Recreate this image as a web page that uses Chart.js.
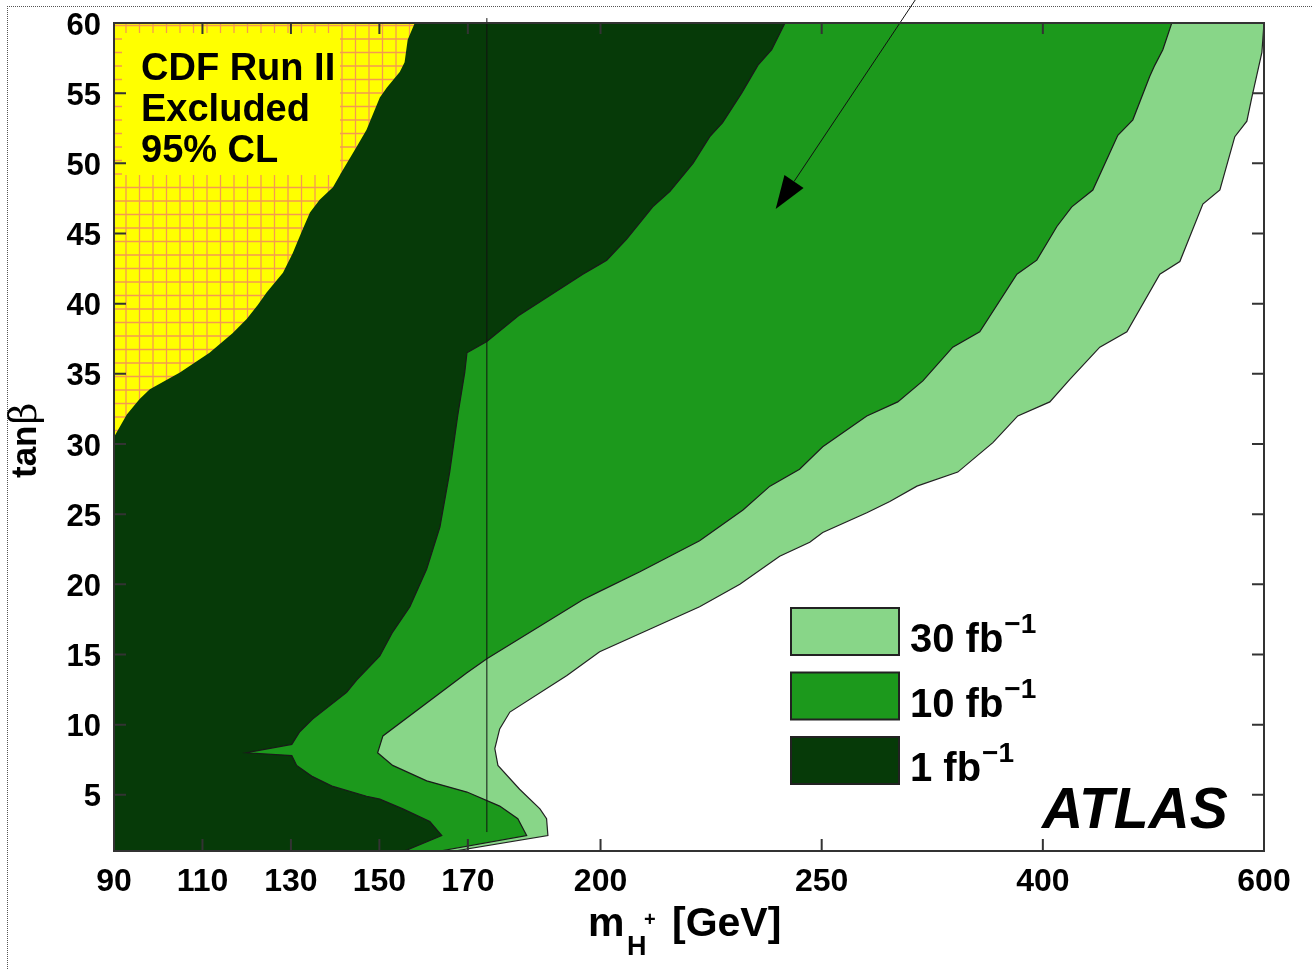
<!DOCTYPE html>
<html>
<head>
<meta charset="utf-8">
<script src="https://cdn.jsdelivr.net/npm/chart.js@4.4.1/dist/chart.umd.min.js"></script>
<style>
  html, body { margin: 0; padding: 0; background: #fff; }
  #wrap { position: relative; width: 1312px; height: 969px; overflow: hidden; }
  #frame { position: absolute; left: 7px; top: 6px; right: -2px; bottom: -2px;
           border-top: 1px dotted #555; border-left: 1px dotted #555; }
  canvas { position: absolute; left: 0; top: 0; }
</style>
</head>
<body>
<div id="wrap"><div id="frame"></div><canvas id="chart" width="1312" height="969"></canvas></div>
<script>
// tick labels
const xTickLabels = [90, 110, 130, 150, 170, 200, 250, 400, 600];
const yTickLabels = [5, 10, 15, 20, 25, 30, 35, 40, 45, 50, 55, 60];

// CDF Run II excluded region, boundary (m_H+ in GeV, tanb)
const cdfMass = [90, 92.9, 95.8, 98.1, 104.9, 111.6, 116.8, 120.0, 122.5, 124.5, 128.2, 130.4, 132.4,
  134.3, 136.5, 139.5, 141.7, 144.9, 147.1, 150.1, 151.7, 154.6, 155.7, 156.4, 158.0];
const cdfTanb = [30.5, 32.1, 33.2, 33.9, 35.1, 36.5, 37.9, 38.9, 39.9, 40.8, 42.2, 43.6, 45.1,
  46.5, 47.4, 48.3, 49.5, 51.2, 52.4, 54.7, 55.4, 56.5, 57.2, 58.8, 60];

// 1 fb-1 contour
const fb1Mass = [241.7, 238.7, 235.6, 231.9, 227.6, 224.7, 220.9, 215.7, 211.8, 205.9, 201.4, 199.8, 196.0,
  181.7, 174.3, 169.8, 169.3, 167.7, 165.9, 163.7, 160.7, 156.9, 153.0, 150.1, 144.9, 142.6, 134.9,
  132.0, 130.2, 120.0, 130.2, 131.3, 134.9, 139.5, 147.1, 150.1, 155.3, 161.4, 164.1, 155.7];
const fb1Tanb = [60, 58.1, 57.0, 55.0, 52.9, 51.9, 50.0, 48.0, 46.9, 44.6, 43.1, 42.8, 42.1,
  39.2, 37.3, 36.5, 35.1, 32.0, 28.0, 24.1, 21.1, 18.4, 16.6, 14.9, 13.2, 12.3, 10.4,
  9.5, 8.6, 8.0, 7.8, 7.1, 6.3, 5.6, 4.9, 4.7, 4.0, 3.1, 2.1, 1];

// 10 fb-1 contour
const fb10Mass = [516.6, 508.5, 501.3, 496.7, 481.4, 467.8, 445.2, 426.2, 412.7, 395.9, 382.4, 357.2,
  338.9, 318.6, 301.6, 280.6, 250.7, 245.0, 238.3, 232.2, 222.4, 215.0, 208.9, 199.8, 196.0, 174.3,
  169.8, 150.8, 149.6, 153.0, 160.7, 169.8, 177.2, 181.3, 183.3, 163.7];
const fb10Tanb = [60, 58.1, 57.0, 56.2, 53.1, 52.0, 48.1, 46.9, 45.5, 43.1, 42.1, 38.0,
  36.9, 34.5, 33.0, 32.0, 29.8, 28.2, 27.0, 25.3, 23.1, 21.9, 20.9, 19.5, 18.9, 14.7,
  13.7, 9.2, 8.0, 7.1, 6.0, 5.2, 4.2, 3.3, 2.1, 1];

// 30 fb-1 contour
const fb30Mass = [600, 598.1, 589.0, 584.5, 573.6, 560.1, 544.7, 523.9, 505.8, 476.0, 451.5, 424.4,
  406.3, 383.0, 366.1, 342.3, 314.6, 296.2, 280.6, 250.7, 247.3, 240.5, 231.5, 222.4, 211.1, 199.8,
  192.4, 179.5, 177.2, 176.1, 176.8, 181.7, 186.3, 187.8, 188.1, 167.0];
const fb30Tanb = [60, 57.9, 54.7, 53.0, 51.9, 48.1, 47.1, 43.0, 42.1, 38.0, 36.9, 34.6,
  33.0, 32.0, 30.1, 28.0, 27.0, 25.9, 25.1, 23.7, 23.0, 22.0, 20.0, 18.4, 16.8, 15.2,
  13.5, 10.9, 9.7, 8.3, 7.1, 5.4, 4.0, 3.3, 2.1, 1];

// top quark mass line and the arrow
const topMass = 174.3;
const topLineTanb = [2.35, 60.35];
const arrowMass = [313.5, 239.6];
const arrowTanb = [61.65, 46.75];

// x axis is linear in pieces: 90-250, 250-400, 400-600
const axisBreaks = [[90, 0], [250, 8], [400, 10.5], [600, 13]];
function massToAxis(m) {
  for (let i = 1; i < axisBreaks.length; i++) {
    const [m0, u0] = axisBreaks[i - 1], [m1, u1] = axisBreaks[i];
    if (m <= m1 || i === axisBreaks.length - 1) return u0 + (m - m0) * (u1 - u0) / (m1 - m0);
  }
}

// closed region: boundary + corners of the plot
function region(mass, tanb, corners) {
  const pts = mass.map((m, i) => ({ x: massToAxis(m), y: tanb[i] }));
  corners.forEach(c => pts.push({ x: massToAxis(c[0]), y: c[1] }));
  return pts;
}

// yellow with orange grid
function hatch() {
  const c = document.createElement("canvas");
  c.width = 27; c.height = 27;
  const g = c.getContext("2d");
  g.fillStyle = "#ffff00";
  g.fillRect(0, 0, 27, 27);
  g.strokeStyle = "#f49a50";
  g.lineWidth = 1.3;
  g.beginPath();
  [4.5, 18].forEach(v => { g.moveTo(v, 0); g.lineTo(v, 27); });
  [12, 25.5].forEach(v => { g.moveTo(0, v); g.lineTo(27, v); });
  g.stroke();
  return g.createPattern(c, "repeat");
}

const FONT = "'Liberation Sans', Arial, Helvetica, sans-serif";
const ctx = document.getElementById("chart").getContext("2d");

const decor = {
  id: "decor",
  afterDatasetsDraw(chart) {
    const { ctx, chartArea: a, scales: { x, y } } = chart;
    ctx.save();

    // CDF label box
    ctx.fillStyle = "#ffff00";
    ctx.fillRect(a.left + 8, a.top + 10, 218, 142);
    ctx.fillStyle = "#000";
    ctx.font = "bold 38px " + FONT;
    ctx.textBaseline = "alphabetic";
    ctx.fillText("CDF Run II", a.left + 27, a.top + 57);
    ctx.fillText("Excluded", a.left + 27, a.top + 98);
    ctx.fillText("95% CL", a.left + 27, a.top + 139);

    // top mass line
    const tx = x.getPixelForValue(massToAxis(topMass));
    ctx.strokeStyle = "#111";
    ctx.lineWidth = 1;
    ctx.beginPath();
    ctx.moveTo(tx, y.getPixelForValue(topLineTanb[0]));
    ctx.lineTo(tx, y.getPixelForValue(topLineTanb[1]));
    ctx.stroke();

    // arrow
    const x0 = x.getPixelForValue(massToAxis(arrowMass[0])), y0 = y.getPixelForValue(arrowTanb[0]);
    const x1 = x.getPixelForValue(massToAxis(arrowMass[1])), y1 = y.getPixelForValue(arrowTanb[1]);
    const len = Math.hypot(x1 - x0, y1 - y0), ux = (x1 - x0) / len, uy = (y1 - y0) / len;
    const hl = 33, hw = 11.5;
    ctx.beginPath();
    ctx.moveTo(x0 - ux * 20, y0 - uy * 20);
    ctx.lineTo(x1 - ux * hl, y1 - uy * hl);
    ctx.stroke();
    ctx.fillStyle = "#000";
    ctx.beginPath();
    ctx.moveTo(x1, y1);
    ctx.lineTo(x1 - ux * hl - uy * hw, y1 - uy * hl + ux * hw);
    ctx.lineTo(x1 - ux * hl + uy * hw, y1 - uy * hl - ux * hw);
    ctx.closePath();
    ctx.fill();

    // frame and inward ticks on all sides
    ctx.strokeStyle = "#333";
    ctx.lineWidth = 2;
    ctx.strokeRect(a.left, a.top, a.right - a.left, a.bottom - a.top);
    ctx.beginPath();
    x.ticks.forEach(t => {
      const px = x.getPixelForValue(t.value);
      ctx.moveTo(px, a.bottom); ctx.lineTo(px, a.bottom - 12);
      ctx.moveTo(px, a.top); ctx.lineTo(px, a.top + 11);
    });
    y.ticks.forEach(t => {
      const py = y.getPixelForValue(t.value);
      ctx.moveTo(a.left, py); ctx.lineTo(a.left + 12, py);
      ctx.moveTo(a.right, py); ctx.lineTo(a.right - 12, py);
    });
    ctx.stroke();

    // legend
    const items = chart.data.datasets.slice(1).reverse();
    items.forEach((ds, i) => {
      const bx = a.left + 677, by = a.top + 585 + i * 64.5;
      ctx.fillStyle = ds.backgroundColor;
      ctx.fillRect(bx, by, 108, 47);
      ctx.strokeStyle = "#222";
      ctx.lineWidth = 2;
      ctx.strokeRect(bx, by, 108, 47);
      ctx.fillStyle = "#000";
      ctx.font = "bold 40px " + FONT;
      ctx.fillText(ds.label, bx + 119, by + 44);
      const w = ctx.measureText(ds.label).width;
      ctx.font = "bold 28px " + FONT;
      ctx.fillText("\u22121", bx + 119 + w + 1, by + 25);
    });

    // ATLAS
    ctx.font = "italic bold 57px " + FONT;
    ctx.fillText("ATLAS", a.right - 222, a.bottom - 23);

    // axis titles
    ctx.font = "bold 41px " + FONT;
    ctx.fillText("m", 588, 936);
    ctx.font = "bold 27px " + FONT;
    ctx.fillText("H", 627, 955);
    ctx.font = "bold 20px " + FONT;
    ctx.fillText("+", 644, 926);
    ctx.font = "bold 41px " + FONT;
    ctx.fillText("[GeV]", 672, 936);

    ctx.translate(36, 437);
    ctx.rotate(-Math.PI / 2);
    ctx.font = "bold 35px " + FONT;
    ctx.fillText("tan", -41, 0);
    const tw = ctx.measureText("tan").width;
    ctx.font = "38px 'DejaVu Serif', serif";
    ctx.fillText("\u03b2", -41 + tw + 1, 0);
    ctx.restore();
  }
};

new Chart(ctx, {
  type: "line",
  data: {
    datasets: [
      {
        label: "CDF",
        data: region(cdfMass, cdfTanb, [[90, 60]]),
        backgroundColor: hatch(),
        borderColor: "rgba(0,0,0,0)",
        borderWidth: 0,
        fill: "shape",
      },
      {
        label: "1 fb",
        data: region(fb1Mass, fb1Tanb, [[90, 1], [90, 60]]),
        backgroundColor: "#063a08",
        borderColor: "#1a1a1a",
        borderWidth: 1.2,
        fill: "shape",
      },
      {
        label: "10 fb",
        data: region(fb10Mass, fb10Tanb, [[90, 1], [90, 60]]),
        backgroundColor: "#1c991c",
        borderColor: "#1a1a1a",
        borderWidth: 1.2,
        fill: "shape",
      },
      {
        label: "30 fb",
        data: region(fb30Mass, fb30Tanb, [[90, 1], [90, 60]]),
        backgroundColor: "#88d688",
        borderColor: "#222",
        borderWidth: 1.2,
        fill: "shape",
      },
    ],
  },
  options: {
    responsive: false,
    animation: false,
    events: [],
    layout: { padding: { left: 0, top: 23, right: 48, bottom: 0 } },
    elements: { point: { radius: 0 }, line: { tension: 0 } },
    scales: {
      x: {
        type: "linear",
        min: 0,
        max: 13,
        afterBuildTicks: s => { s.ticks = xTickLabels.map(m => ({ value: massToAxis(m) })); },
        afterFit: s => { s.height = 118; },
        grid: { display: false, drawTicks: false },
        border: { display: false },
        ticks: {
          autoSkip: false,
          maxRotation: 0,
          padding: 12,
          color: "#000",
          font: { family: FONT, weight: "bold", size: 32 },
          callback: (v, i) => xTickLabels[i],
        },
      },
      y: {
        type: "linear",
        min: 1,
        max: 60,
        afterBuildTicks: s => { s.ticks = yTickLabels.map(v => ({ value: v })); },
        afterFit: s => { s.width = 114; },
        grid: { display: false, drawTicks: false },
        border: { display: false },
        ticks: {
          padding: 13,
          labelOffset: 3,
          color: "#000",
          font: { family: FONT, weight: "bold", size: 31, lineHeight: 0.6 },
        },
      },
    },
    plugins: {
      legend: { display: false },
      tooltip: { enabled: false },
    },
  },
  plugins: [decor],
});
</script>
</body>
</html>
